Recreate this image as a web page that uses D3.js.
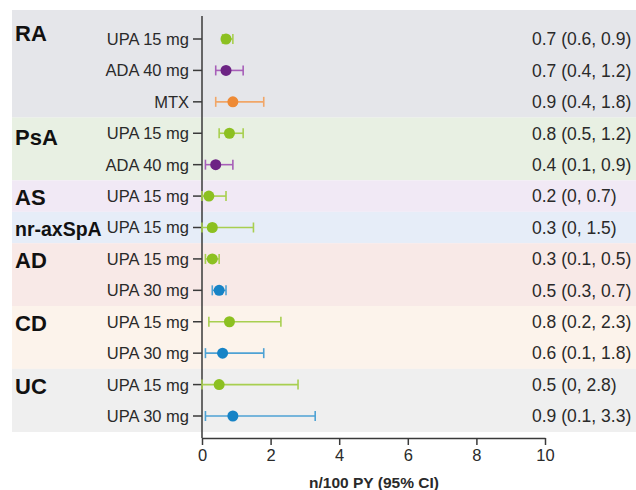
<!DOCTYPE html>
<html>
<head>
<meta charset="utf-8">
<script src="https://cdn.jsdelivr.net/npm/d3@7"></script>
<style>
  body { margin: 0; background: #fff; }
  svg { display: block; font-family: "Liberation Sans", Arial, sans-serif; }
</style>
</head>
<body>
<svg id="chart" width="636" height="490"></svg>
<script>
"use strict";

// groups (indication) and their row count
var groups = ["RA", "PsA", "AS", "nr-axSpA", "AD", "CD", "UC"];
var groupSizes = [3, 2, 1, 1, 2, 2, 2];
var groupColors = ["#e5e6ea", "#e8f0e3", "#f1e9f5", "#e6edf8", "#f8e9e7", "#fcf3eb", "#efefef"];

// one entry per row
var rowGroups = ["RA", "RA", "RA", "PsA", "PsA", "AS", "nr-axSpA", "AD", "AD", "CD", "CD", "UC", "UC"];
var treatments = ["UPA 15 mg", "ADA 40 mg", "MTX", "UPA 15 mg", "ADA 40 mg", "UPA 15 mg", "UPA 15 mg",
  "UPA 15 mg", "UPA 30 mg", "UPA 15 mg", "UPA 30 mg", "UPA 15 mg", "UPA 30 mg"];
var rates = [0.7, 0.7, 0.9, 0.8, 0.4, 0.2, 0.3, 0.3, 0.5, 0.8, 0.6, 0.5, 0.9];
var lower = [0.6, 0.4, 0.4, 0.5, 0.1, 0, 0, 0.1, 0.3, 0.2, 0.1, 0, 0.1];
var upper = [0.9, 1.2, 1.8, 1.2, 0.9, 0.7, 1.5, 0.5, 0.7, 2.3, 1.8, 2.8, 3.3];
var xTicks = [0, 2, 4, 6, 8, 10];

var treatmentColors = {
  "UPA 15 mg": { dot: "#8cc021", bar: "#a8cf50" },
  "UPA 30 mg": { dot: "#1683c6", bar: "#4ea2d4" },
  "ADA 40 mg": { dot: "#6d2484", bar: "#a75fb8" },
  "MTX": { dot: "#ee8a35", bar: "#f1a667" }
};

var svg = d3.select("#chart");

var x = d3.scaleLinear().domain([0, 10]).range([202, 545]);
var y = d3.scaleLinear().domain([0, rowGroups.length - 1]).range([39, 416]);

var bandTop = 10, bandBottom = 432, bandLeft = 12, bandRight = 636;
var textColor = "#2a2a2a";

// background bands
var start = 0;
var bands = groups.map(function(g, i){
  var first = start, last = start + groupSizes[i] - 1;
  start += groupSizes[i];
  var y0 = first === 0 ? bandTop : (y(first) + y(first - 1)) / 2;
  var y1 = last === rowGroups.length - 1 ? bandBottom : (y(last) + y(last + 1)) / 2;
  return { name: g, color: groupColors[i], y0: y0, y1: y1, yFirst: y(first) };
});

svg.append("g")
  .selectAll("rect")
  .data(bands)
  .enter()
  .append("rect")
  .attr("x", bandLeft)
  .attr("y", function(d){ return d.y0; })
  .attr("width", bandRight - bandLeft)
  .attr("height", function(d){ return d.y1 - d.y0; })
  .attr("fill", function(d){ return d.color; });

svg.append("g")
  .selectAll("text")
  .data(bands)
  .enter()
  .append("text")
  .attr("x", 15)
  .attr("y", function(d, i){ return d.yFirst + (i === 0 ? -6 : (i === 1 ? 4 : 1)); })
  .attr("dy", "0.36em")
  .attr("font-size", function(d){ return d.name === "nr-axSpA" ? 19.5 : 22; })
  .attr("font-weight", "bold")
  .attr("fill", "#111")
  .text(function(d){ return d.name; });

var rows = rowGroups.map(function(g, i){
  return { group: g, treatment: treatments[i], rate: rates[i], lo: lower[i], hi: upper[i], i: i };
});

// axes
var axisColor = "#3a3a3a";

svg.append("line")
  .attr("x1", x(0)).attr("x2", x(0))
  .attr("y1", 16).attr("y2", 438)
  .attr("stroke", axisColor).attr("stroke-width", 1.5);

var xAxis = svg.append("g")
  .attr("transform", "translate(0,438)")
  .call(d3.axisBottom(x).tickValues(xTicks).tickSize(7).tickPadding(4).tickSizeOuter(0));

xAxis.select(".domain").attr("stroke", axisColor).attr("stroke-width", 1.5);
xAxis.selectAll(".tick line").attr("stroke", axisColor).attr("stroke-width", 1.5);
xAxis.selectAll(".tick text")
  .attr("font-size", 16.5)
  .attr("fill", textColor)
  .attr("font-family", "Liberation Sans, Arial, sans-serif");

svg.append("text")
  .attr("x", 374)
  .attr("y", 488)
  .attr("text-anchor", "middle")
  .attr("font-size", 15.5)
  .attr("font-weight", "bold")
  .attr("fill", textColor)
  .text("n/100 PY (95% CI)");

// row ticks and labels
var rowG = svg.append("g")
  .selectAll(".row")
  .data(rows)
  .enter()
  .append("g")
  .attr("class", "row")
  .attr("transform", function(d){ return "translate(0," + y(d.i) + ")"; });

rowG.append("line")
  .attr("x1", x(0) - 9).attr("x2", x(0))
  .attr("stroke", axisColor).attr("stroke-width", 1.5);

rowG.append("text")
  .attr("x", 189)
  .attr("dy", "0.36em")
  .attr("text-anchor", "end")
  .attr("font-size", 16.5)
  .attr("fill", textColor)
  .text(function(d){ return d.treatment; });

rowG.append("text")
  .attr("x", 532)
  .attr("dy", "0.36em")
  .attr("font-size", 17.5)
  .attr("fill", textColor)
  .text(function(d){ return d.rate + " (" + d.lo + ", " + d.hi + ")"; });

// error bars
rowG.append("line")
  .attr("x1", function(d){ return x(d.lo); })
  .attr("x2", function(d){ return x(d.hi); })
  .attr("stroke", function(d){ return treatmentColors[d.treatment].bar; })
  .attr("stroke-width", 1.6);

rowG.selectAll(".cap")
  .data(function(d){ return [{ v: d.lo, t: d.treatment }, { v: d.hi, t: d.treatment }]; })
  .enter()
  .append("line")
  .attr("class", "cap")
  .attr("x1", function(c){ return x(c.v); })
  .attr("x2", function(c){ return x(c.v); })
  .attr("y1", -5).attr("y2", 5)
  .attr("stroke", function(c){ return treatmentColors[c.t].bar; })
  .attr("stroke-width", 1.6);

rowG.append("circle")
  .attr("cx", function(d){ return x(d.rate); })
  .attr("r", 5.5)
  .attr("fill", function(d){ return treatmentColors[d.treatment].dot; });
</script>
</body>
</html>
